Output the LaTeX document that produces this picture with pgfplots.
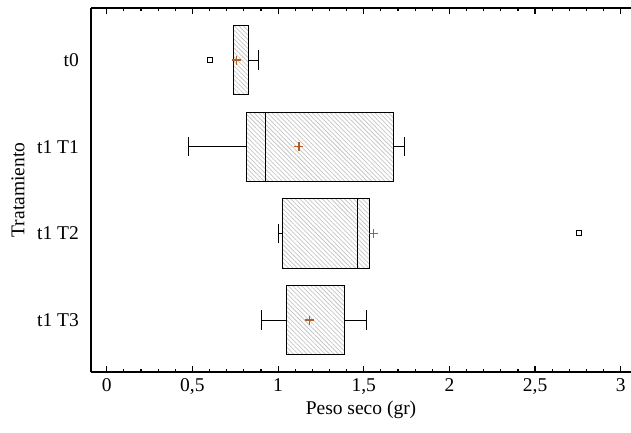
\documentclass[border=0pt]{standalone}
\usepackage{fontspec}
\setmainfont{Liberation Serif}
\usepackage{pgfplots}
\pgfplotsset{compat=1.18}
\usepgfplotslibrary{statistics}
\usetikzlibrary{patterns.meta}
\definecolor{meancol}{RGB}{175,95,40}

\begin{document}
\fontsize{11.7}{14}\selectfont
\begin{tikzpicture}
\begin{axis}[
    scale only axis,
    width=324pt, height=218.4pt,
    xmin=-0.092, xmax=3.06,
    ymin=0.4, ymax=4.6, y dir=reverse,
    axis y line*=left,
    axis line style={line width=0.7pt},
    xtick={0,0.5,1,1.5,2,2.5,3},
    minor x tick num=4,
    major tick length=3.6pt, minor tick length=1.8pt,
    every tick/.style={black, line width=0.7pt},
    ytick={1,2,3,4},
    yticklabels={t0, t1 T1, t1 T2, t1 T3},
    ytick style={draw=none},
    yticklabel style={xshift=-3.2pt},
    /pgf/number format/use comma,
    /pgf/number format/assume math mode=true,
    xlabel={Peso seco (gr)},
    ylabel={Tratamiento},
    xlabel style={at={(axis description cs:0.5,-0.104)}, anchor=center},
    ylabel style={at={(axis description cs:-0.135,0.5)}, anchor=center},
    boxplot/box extend=0.8,
    boxplot/whisker extend=0.22,
    boxplot/every box/.style={draw=black, line width=0.6pt,
        pattern={Lines[angle=-45, distance=1.9pt, line width=0.45pt]}, pattern color=gray!45},
    boxplot/every whisker/.style={black, line width=0.6pt},
    boxplot/every median/.style={black, line width=0.6pt},
    boxplot/draw/average/.code={},
]
% means first (under the boxes where they overlap)
\addplot[only marks, mark=+, mark size=2.7pt, line width=0.75pt,
  mark options={draw=meancol}, color=meancol]
  coordinates {(0.758,1) (1.122,2) (1.558,3) (1.182,4)};
% t0
\addplot[mark=square, mark size=1.5pt, black, line width=0.6pt,
  boxplot prepared={draw position=1, lower whisker=0.739, lower quartile=0.739,
    median=0.739, upper quartile=0.826, upper whisker=0.887}]
  coordinates {(0,0.603)};
% t1 T1
\addplot[mark=square, mark size=1.5pt, black, line width=0.6pt,
  boxplot prepared={draw position=2, lower whisker=0.476, lower quartile=0.815,
    median=0.924, upper quartile=1.676, upper whisker=1.735}]
  coordinates {};
% t1 T2
\addplot[mark=square, mark size=1.5pt, black, line width=0.6pt,
  boxplot prepared={draw position=3, lower whisker=1.005, lower quartile=1.025,
    median=1.462, upper quartile=1.536, upper whisker=1.536}]
  coordinates {(0,2.755)};
% t1 T3
\addplot[mark=square, mark size=1.5pt, black, line width=0.6pt,
  boxplot prepared={draw position=4, lower whisker=0.904, lower quartile=1.05,
    median=1.05, upper quartile=1.389, upper whisker=1.515}]
  coordinates {};
% means again on top
\addplot[only marks, mark=+, mark size=2.7pt, line width=0.75pt,
  mark options={draw=meancol}, color=meancol]
  coordinates {(0.758,1) (1.122,2) (1.558,3) (1.182,4)};
\coordinate (ll) at (axis description cs:0,0);
\coordinate (ur) at (axis description cs:1,1);
\end{axis}
\pgfresetboundingbox
\path[use as bounding box] ([xshift=-54.6pt,yshift=-36pt]ll) rectangle ([yshift=4.8pt]ur);
\end{tikzpicture}
\end{document}
